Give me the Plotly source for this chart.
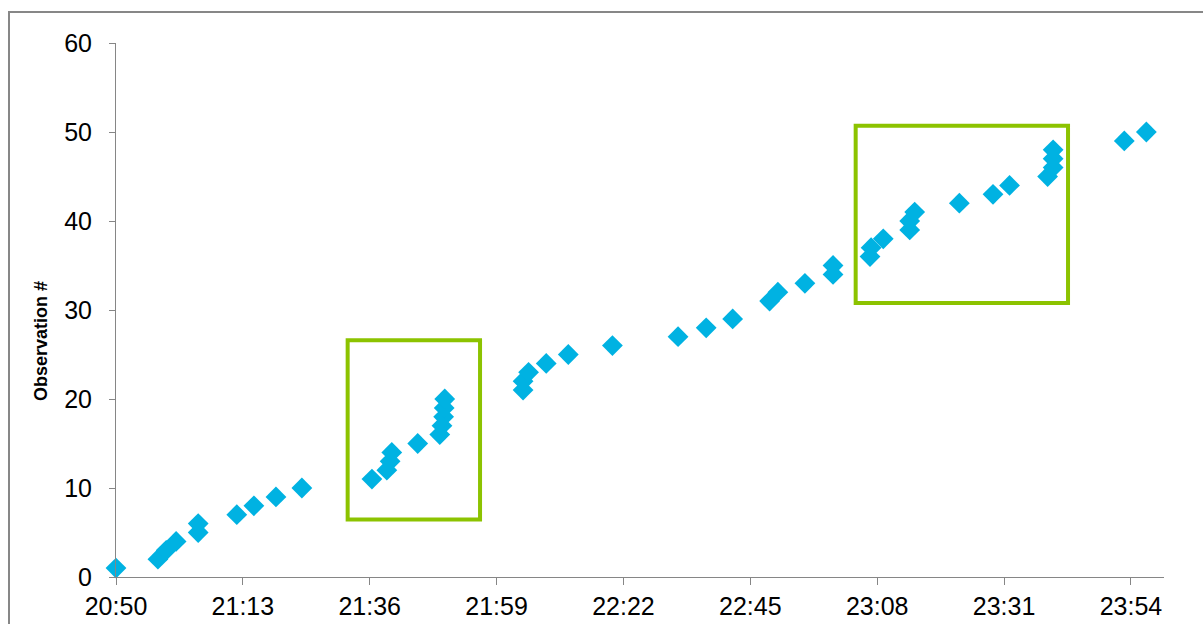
import plotly.graph_objects as go

# Observation log: clock time of each observation and its sequence number
obs_times = [
    "20:50:00", "20:57:36", "20:59:06", "21:00:54", "21:04:54", "21:04:54",
    "21:11:54", "21:15:00", "21:19:00", "21:23:42",
    "21:36:24", "21:39:06", "21:39:42", "21:40:00", "21:44:42",
    "21:48:42", "21:49:06", "21:49:24", "21:49:30", "21:49:36",
    "22:03:48", "22:03:48", "22:04:48", "22:08:00", "22:12:00", "22:20:00",
    "22:31:54", "22:37:00", "22:41:48", "22:48:30", "22:50:00",
    "22:54:54", "23:00:00", "23:00:00",
    "23:06:42", "23:06:54", "23:09:06", "23:13:54", "23:13:54", "23:14:48",
    "23:22:54", "23:29:00", "23:32:00",
    "23:38:54", "23:39:54", "23:39:54", "23:39:54",
    "23:52:48", "23:56:48",
]
obs_numbers = [
    1, 2, 3, 4, 5, 6,
    7, 8, 9, 10,
    11, 12, 13, 14, 15,
    16, 17, 18, 19, 20,
    21, 22, 23, 24, 25, 26,
    27, 28, 29, 31, 32,
    33, 34, 35,
    36, 37, 38, 39, 40, 41,
    42, 43, 44,
    45, 46, 47, 48,
    49, 50,
]

# Highlighted bursts: (start time, end time, low obs, high obs)
highlight_boxes = [
    ("21:32:00", "21:56:00", 6.46, 26.6),
    ("23:04:06", "23:42:36", 30.8, 50.7),
]

y_title = "Observation #"

DAY = "2000-01-01"
x_vals = [f"{DAY} {t}" for t in obs_times]

AXIS_GRAY = "#868686"
FONT = "Liberation Sans, Arial, sans-serif"

fig = go.Figure(
    go.Scatter(
        x=x_vals,
        y=obs_numbers,
        mode="markers",
        marker=dict(symbol="diamond", size=16, color="#00B2E2", line=dict(width=0)),
        cliponaxis=False,
        hoverinfo="x+y",
    )
)

for t0, t1, lo, hi in highlight_boxes:
    fig.add_shape(
        type="rect", xref="x", yref="y",
        x0=f"{DAY} {t0}", x1=f"{DAY} {t1}", y0=lo, y1=hi,
        line=dict(color="#8CC300", width=4),
        fillcolor="rgba(0,0,0,0)",
        layer="above",
    )

# Outer chart frame
fig.add_shape(
    type="rect", xref="paper", yref="paper",
    x0=-0.1021, x1=1.2, y0=-0.2, y1=1.058,
    line=dict(color="#878787", width=2),
    fillcolor="rgba(0,0,0,0)",
)

# Vertical axis caption
fig.add_annotation(
    text=y_title,
    xref="paper", yref="paper",
    x=-0.0716, y=0.442,
    xanchor="center", yanchor="middle",
    textangle=-90,
    showarrow=False,
    font=dict(size=18, family=FONT, color="black", weight="bold"),
)

fig.update_layout(
    width=1203,
    height=624,
    margin=dict(l=116, r=39, t=43, b=47),
    paper_bgcolor="white",
    plot_bgcolor="white",
    showlegend=False,
    font=dict(family=FONT, color="black"),
    xaxis=dict(
        type="date",
        range=[f"{DAY} 20:50:00", "2000-01-02 00:00:00"],
        tick0=f"{DAY} 20:50:00",
        dtick=23 * 60 * 1000,
        tickformat="%H:%M",
        showgrid=False,
        zeroline=False,
        showline=True,
        linecolor=AXIS_GRAY,
        linewidth=1,
        ticks="outside",
        ticklen=7,
        tickcolor=AXIS_GRAY,
        tickfont=dict(size=25, family=FONT, color="black"),
        automargin=False,
    ),
    yaxis=dict(
        range=[0, 60],
        tick0=0,
        dtick=10,
        showgrid=False,
        zeroline=False,
        showline=True,
        linecolor=AXIS_GRAY,
        linewidth=1,
        ticks="outside",
        ticklen=6,
        tickcolor=AXIS_GRAY,
        tickfont=dict(size=25, family=FONT, color="black"),
        ticklabelstandoff=12,
        automargin=False,
    ),
)

fig.write_html("out.html")
